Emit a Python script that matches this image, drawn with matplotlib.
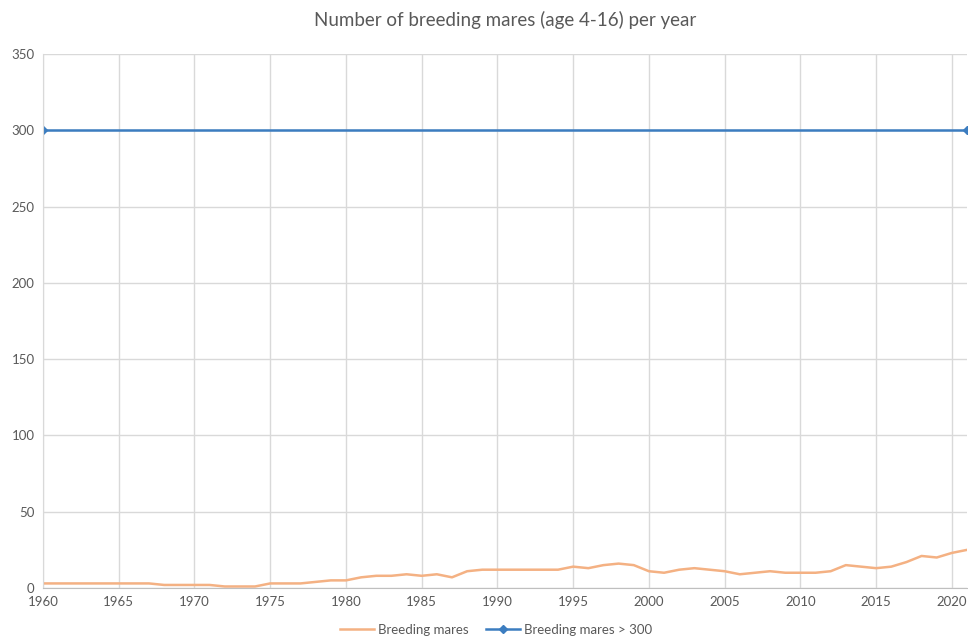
import matplotlib
matplotlib.use("Agg")
import matplotlib.pyplot as plt

plt.rcParams['font.family'] = ['Lato', 'DejaVu Sans']

# data
years = list(range(1960, 2022))
mares = [3, 3, 3, 3, 3, 3, 3, 3, 2, 2,   # 1960-1969
         2, 2, 1, 1, 1, 3, 3, 3, 4, 5,   # 1970-1979
         5, 7, 8, 8, 9, 8, 9, 7, 11, 12,  # 1980-1989
         12, 12, 12, 12, 12, 14, 13, 15, 16, 15,  # 1990-1999
         11, 10, 12, 13, 12, 11, 9, 10, 11, 10,  # 2000-2009
         10, 10, 11, 15, 14, 13, 14, 17, 21, 20,  # 2010-2019
         23, 25]  # 2020-2021
limit_years = [1960, 2021]
limit_values = [300, 300]

xticks = list(range(1960, 2021, 5))
yticks = list(range(0, 351, 50))

fig = plt.figure(figsize=(9.68, 6.42), dpi=100)
ax = fig.add_axes([0.0444, 0.0841, 0.9546, 0.8318])

ax.plot(years, mares, color='#F4B183', lw=1.8, label='Breeding mares')
ax.plot(limit_years, limit_values, color='#3C7DC0', lw=1.8, marker='D', ms=4.5,
        label='Breeding mares > 300')

ax.set_xlim(1960, 2021)
ax.set_ylim(0, 350)
ax.set_xticks(xticks)
ax.set_yticks(yticks)
ax.grid(True, color='#D9D9D9', lw=1)
ax.set_axisbelow(True)
ax.tick_params(length=0, labelsize=9.5, colors='#595959', pad=6)
for s in ['top', 'right']:
    ax.spines[s].set_visible(False)
ax.spines['left'].set_color('#D9D9D9')
ax.spines['bottom'].set_color('#BFBFBF')

ax.set_title('Number of breeding mares (age 4-16) per year', fontsize=13.5,
             color='#595959', pad=20)

ax.legend(loc='upper center', bbox_to_anchor=(0.49, -0.045), ncol=2, frameon=False,
          fontsize=9.5, labelcolor='#595959', handlelength=2.6, handletextpad=0.3,
          columnspacing=1.3, markerscale=0.8)

fig.savefig('out.png')
